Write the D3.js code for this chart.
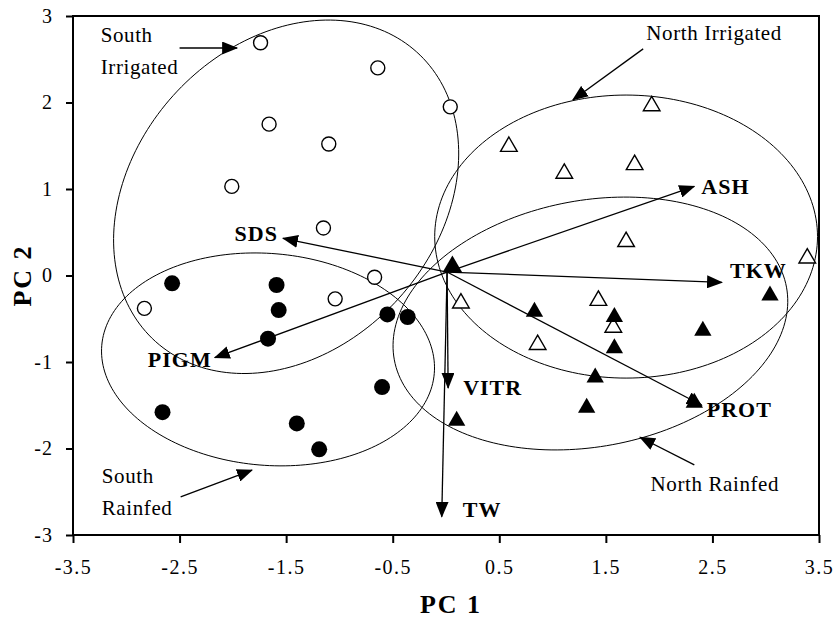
<!DOCTYPE html>
<html>
<head>
<meta charset="utf-8">
<script src="https://cdn.jsdelivr.net/npm/d3@7"></script>
<style>
  html, body { margin: 0; padding: 0; background: #fff; }
  svg text { font-family: "Liberation Serif", "Times New Roman", serif; fill: #000; }
</style>
</head>
<body>
<svg id="chart" width="838" height="619"></svg>
<script>
// ---------------- DATA ----------------
// South Irrigated (open circles)
const southIrrigatedPC1 = [-1.74, -0.64, 0.04, -1.66, -1.10, -2.01, -1.15, -0.67, -1.04, -2.83];
const southIrrigatedPC2 = [ 2.69,  2.40, 1.95,  1.75,  1.52,  1.03,  0.55, -0.02, -0.27, -0.38];
// South Rainfed (filled circles)
const southRainfedPC1 = [-2.57, -1.59, -1.57, -1.67, -0.55, -0.36, -0.60, -2.66, -1.40, -1.19];
const southRainfedPC2 = [-0.09, -0.11, -0.40, -0.73, -0.45, -0.48, -1.29, -1.58, -1.71, -2.01];
// North Irrigated (open triangles)
const northIrrigatedPC1 = [1.93, 0.59, 1.11, 1.77, 1.69, 3.39, 1.43, 1.57, 0.14, 0.86];
const northIrrigatedPC2 = [1.96, 1.49, 1.18, 1.28, 0.39, 0.20, -0.29, -0.60, -0.32, -0.80];
// North Rainfed (filled triangles)
const northRainfedPC1 = [0.06, 0.83, 3.04, 1.58, 2.41, 1.58, 1.40, 1.32, 2.33, 0.10];
const northRainfedPC2 = [0.10, -0.42, -0.23, -0.48, -0.64, -0.84, -1.18, -1.53, -1.47, -1.68];

// Loading vectors (traits)
const traitNames = ["SDS", "PIGM", "ASH", "TKW", "PROT", "VITR", "TW"];
const traitPC1   = [-1.53, -2.17, 2.33, 2.59, 2.40, 0.02, -0.04];
const traitPC2   = [ 0.43, -0.95, 1.03, -0.08, -1.50, -1.30, -2.79];
const loadingOrigin = [0.01, 0.04];

// Group ellipses: centre and two conjugate semi-axis vectors (PC units)
const ellipseNames = ["South Irrigated", "South Rainfed", "North Irrigated", "North Rainfed"];
const ellipseCX = [-1.50, -1.67, 1.69, 1.355];
const ellipseCY = [ 0.91, -0.97, 0.45, -0.555];
const ellipseUX = [ 1.224, 1.560, 1.796, 1.840];
const ellipseUY = [ 1.675, -0.163, 0.0, 0.420];
const ellipseVX = [ 1.060, -0.084, 0.0, 0.210];
const ellipseVY = [-1.170, -1.220, 1.636, -1.400];

// Group annotations: label lines, label anchor, arrow from -> to (PC units)
const groupLabelLines = [["South", "Irrigated"], ["North Irrigated"], ["South", "Rainfed"], ["North Rainfed"]];
const groupLabelPC1 = [-3.24, 1.88, -3.23, 1.92];
const groupLabelPC2 = [ 2.70, 2.72, -2.40, -2.49];
const groupArrowFromPC1 = [-2.50, 1.85, -2.49, 2.33];
const groupArrowFromPC2 = [ 2.63, 2.62, -2.56, -2.19];
const groupArrowToPC1   = [-1.96, 1.19, -1.82, 1.82];
const groupArrowToPC2   = [ 2.63, 2.03, -2.25, -1.87];

const xTicks = [-3.5, -2.5, -1.5, -0.5, 0.5, 1.5, 2.5, 3.5];
const yTicks = [-3, -2, -1, 0, 1, 2, 3];
const xTitle = "PC 1";
const yTitle = "PC 2";

// ---------------- LAYOUT ----------------
const svg = d3.select("#chart");
const L = 73, R = 819, T = 16, B = 535;
const x = d3.scaleLinear().domain([-3.5, 3.5]).range([L, R]);
const y = d3.scaleLinear().domain([-3, 3]).range([B, T]);

// label offsets in pixels relative to arrow tips
const traitLabelLayout = {
  SDS:  {dx: -5, dy: 3, anchor: "end"},
  PIGM: {dx: -3, dy: 9, anchor: "end"},
  ASH:  {dx: 7, dy: 8, anchor: "start"},
  TKW:  {dx: 8, dy: -4, anchor: "start"},
  PROT: {dx: 5, dy: 12, anchor: "start"},
  VITR: {dx: 15, dy: 7, anchor: "start"},
  TW:   {dx: 21, dy: 0, anchor: "start"}
};

// arrowhead marker
const defs = svg.append("defs");
defs.append("marker")
  .attr("id", "head")
  .attr("viewBox", "0 0 16 13")
  .attr("markerWidth", 16).attr("markerHeight", 13)
  .attr("refX", 15).attr("refY", 6.5)
  .attr("markerUnits", "userSpaceOnUse")
  .attr("orient", "auto")
  .append("path").attr("d", "M0,0 L16,6.5 L0,13 Z").attr("fill", "#000");

// ---------------- AXES ----------------
const yAxis = d3.axisLeft(y).tickValues(yTicks).tickSize(7).tickPadding(13).tickFormat(d => String(d));
const gy = svg.append("g").attr("transform", `translate(${L},0)`).call(yAxis);
gy.select(".domain").remove();
gy.selectAll(".tick line").attr("stroke", "#000").attr("stroke-width", 2);
gy.selectAll(".tick text").attr("font-size", 20).attr("letter-spacing", "1px")
  .attr("font-family", "Liberation Serif, serif").attr("fill", "#000");

const xAxis = d3.axisBottom(x).tickValues(xTicks).tickSize(8).tickPadding(17).tickFormat(d => String(d));
const gx = svg.append("g").attr("transform", `translate(0,${B})`).call(xAxis);
gx.select(".domain").remove();
gx.selectAll(".tick line").attr("stroke", "#000").attr("stroke-width", 2);
gx.selectAll(".tick text").attr("font-size", 20).attr("letter-spacing", "1.5px")
  .attr("font-family", "Liberation Serif, serif").attr("fill", "#000");

// frame
svg.append("rect").attr("x", L).attr("y", T).attr("width", R - L).attr("height", B - T)
  .attr("fill", "none").attr("stroke", "#000").attr("stroke-width", 2);

// axis titles
svg.append("text").attr("x", (L + R) / 2 + 5).attr("y", 613).attr("text-anchor", "middle")
  .attr("font-size", 26).attr("font-weight", "bold").attr("letter-spacing", "2px").text(xTitle);
svg.append("text").attr("transform", `translate(31,${(T + B) / 2}) rotate(-90)`).attr("text-anchor", "middle")
  .attr("font-size", 26).attr("font-weight", "bold").attr("letter-spacing", "2px").text(yTitle);

// ---------------- ELLIPSES ----------------
const line = d3.line().curve(d3.curveLinearClosed);
ellipseNames.forEach((name, i) => {
  const pts = d3.range(0, 200).map(k => {
    const t = k / 200 * 2 * Math.PI;
    const px = ellipseCX[i] + ellipseUX[i] * Math.cos(t) + ellipseVX[i] * Math.sin(t);
    const py = ellipseCY[i] + ellipseUY[i] * Math.cos(t) + ellipseVY[i] * Math.sin(t);
    return [x(px), y(py)];
  });
  svg.append("path").attr("d", line(pts)).attr("fill", "none").attr("stroke", "#000").attr("stroke-width", 1);
});

// ---------------- LOADING VECTORS ----------------
traitNames.forEach((name, i) => {
  svg.append("line")
    .attr("x1", x(loadingOrigin[0])).attr("y1", y(loadingOrigin[1]))
    .attr("x2", x(traitPC1[i])).attr("y2", y(traitPC2[i]))
    .attr("stroke", "#000").attr("stroke-width", 1.3).attr("marker-end", "url(#head)");
  const lay = traitLabelLayout[name];
  svg.append("text").attr("x", x(traitPC1[i]) + lay.dx).attr("y", y(traitPC2[i]) + lay.dy)
    .attr("text-anchor", lay.anchor).attr("font-size", 22).attr("font-weight", "bold")
    .attr("letter-spacing", "1px").text(name);
});

// ---------------- POINTS ----------------
const tri = d3.symbol().type(d3.symbolTriangle);
svg.append("g").selectAll("circle").data(d3.zip(southIrrigatedPC1, southIrrigatedPC2)).join("circle")
  .attr("cx", d => x(d[0])).attr("cy", d => y(d[1])).attr("r", 7)
  .attr("fill", "#fff").attr("stroke", "#000").attr("stroke-width", 1.4);
svg.append("g").selectAll("circle").data(d3.zip(southRainfedPC1, southRainfedPC2)).join("circle")
  .attr("cx", d => x(d[0])).attr("cy", d => y(d[1])).attr("r", 8).attr("fill", "#000");
svg.append("g").selectAll("path").data(d3.zip(northIrrigatedPC1, northIrrigatedPC2)).join("path")
  .attr("d", tri.size(120)()).attr("transform", d => `translate(${x(d[0])},${y(d[1])})`)
  .attr("fill", "#fff").attr("stroke", "#000").attr("stroke-width", 1.4);
svg.append("g").selectAll("path").data(d3.zip(northRainfedPC1, northRainfedPC2)).join("path")
  .attr("d", (d, i) => tri.size(i === 0 ? 170 : 130)()).attr("transform", d => `translate(${x(d[0])},${y(d[1])})`)
  .attr("fill", "#000");

// ---------------- GROUP ANNOTATIONS ----------------
groupLabelLines.forEach((lines, i) => {
  svg.append("line")
    .attr("x1", x(groupArrowFromPC1[i])).attr("y1", y(groupArrowFromPC2[i]))
    .attr("x2", x(groupArrowToPC1[i])).attr("y2", y(groupArrowToPC2[i]))
    .attr("stroke", "#000").attr("stroke-width", 1.3).attr("marker-end", "url(#head)");
  const t = svg.append("text").attr("x", x(groupLabelPC1[i])).attr("y", y(groupLabelPC2[i]))
    .attr("font-size", 21).attr("letter-spacing", "0.6px");
  lines.forEach((s, k) => {
    t.append("tspan").attr("x", x(groupLabelPC1[i])).attr("dy", k === 0 ? 0 : 32).text(s);
  });
});
</script>
</body>
</html>
